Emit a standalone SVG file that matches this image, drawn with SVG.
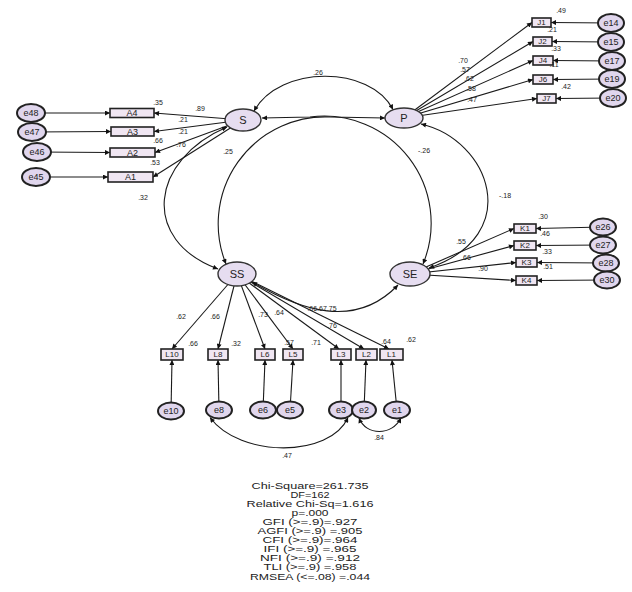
<svg xmlns="http://www.w3.org/2000/svg" width="632" height="592" viewBox="0 0 632 592">
<defs>
<style>
.c{fill:none;stroke:#1a1a1a;stroke-width:1.1}
.lat{fill:#e6ddf0;stroke:#333;stroke-width:1.4}
.err{fill:#e0d6ed;stroke:#222;stroke-width:2}
.box{fill:#f0e6f2;stroke:#222;stroke-width:1.6}
text{font-family:"Liberation Sans",Arial,sans-serif;fill:#222}
.n{font-size:7px}
.lb{font-size:8px;text-anchor:middle;dominant-baseline:central}
.le{font-size:9px;text-anchor:middle;dominant-baseline:central}
.ll{font-size:11px;text-anchor:middle;dominant-baseline:central}
.fit{font-size:9px;text-anchor:middle}
</style>
<marker id="a" viewBox="0 0 10 10" refX="10" refY="5" markerWidth="8" markerHeight="5" markerUnits="userSpaceOnUse" orient="auto-start-reverse"><path d="M0,0L10,5L0,10z" fill="#111"/></marker>
</defs>
<rect width="632" height="592" fill="#fff"/>

<g id="connectors" class="c" marker-end="url(#a)">
<path d="M243,120L154,113"/>
<path d="M243,120L154,131.5"/>
<path d="M243,120L155,152.5"/>
<path d="M243,120L153,177"/>
<path d="M31,113L110,113"/>
<path d="M32,132L111,131.5"/>
<path d="M37,152L110,152.5"/>
<path d="M36,177L108,177"/>
<path d="M404,118L532,22.5"/>
<path d="M404,118L533,41.5"/>
<path d="M404,118L533,60.5"/>
<path d="M404,118L533,79.5"/>
<path d="M404,118L537,98.5"/>
<path d="M611,23L551,22.5"/>
<path d="M611,42L552,41.5"/>
<path d="M612,61L553,60.5"/>
<path d="M612,79L553,79.5"/>
<path d="M613,98L556,98.5"/>
<path d="M410,274L514,228.5"/>
<path d="M410,274L514,245.5"/>
<path d="M410,274L516,262.5"/>
<path d="M410,274L516,280.5"/>
<path d="M603,227L536,228.5"/>
<path d="M603,245L536,245.5"/>
<path d="M606,263L537,262.5"/>
<path d="M607,280L537,280.5"/>
<path d="M237,274L172,349"/>
<path d="M237,274L218,349"/>
<path d="M237,274L265,349"/>
<path d="M237,274L293,349"/>
<path d="M237,274L339,349"/>
<path d="M237,274L364,349"/>
<path d="M237,274L389,349"/>
<path d="M171,411L172,360"/>
<path d="M219,410L218,360"/>
<path d="M263,410L265,360"/>
<path d="M290,410L293,360"/>
<path d="M341,410L341,360"/>
<path d="M364,410L366,360"/>
<path d="M397,410L392,360"/>
<path d="M254,111C280,65 370,65 393,109.5" marker-start="url(#a)"/>
<path d="M385,118L330,117A107,107 0 0 0 226,264" marker-start="url(#a)"/>
<path d="M262,118L310,117A107,107 0 0 1 423,264" marker-start="url(#a)"/>
<path d="M227,127C150,160 140,240 218,269" marker-start="url(#a)"/>
<path d="M421,124C490,140 525,235 429,268" marker-start="url(#a)"/>
<path d="M252,282C300,310 355,330 398,285" marker-start="url(#a)"/>
<path d="M210,417.5C240,458 330,458 348,417.5" marker-start="url(#a)"/>
<path d="M359,418C366,436 392,436 401,418" marker-start="url(#a)"/>
</g>

<g id="S"><ellipse class="lat" cx="243" cy="120" rx="18" ry="11"/><text class="ll" x="243" y="120">S</text></g>
<g id="P"><ellipse class="lat" cx="404" cy="118" rx="19" ry="10"/><text class="ll" x="404" y="118">P</text></g>
<g id="SS"><ellipse class="lat" cx="237" cy="274" rx="19" ry="12"/><text class="ll" x="237" y="274">SS</text></g>
<g id="SE"><ellipse class="lat" cx="410" cy="274" rx="20" ry="12"/><text class="ll" x="410" y="274">SE</text></g>

<g id="A4"><rect class="box" x="110" y="108.5" width="44" height="9"/><text class="le" x="132" y="113">A4</text></g>
<g id="A3"><rect class="box" x="111" y="127" width="43" height="9"/><text class="le" x="132.5" y="131.5">A3</text></g>
<g id="A2"><rect class="box" x="110" y="148" width="45" height="9"/><text class="le" x="132.5" y="152.5">A2</text></g>
<g id="A1"><rect class="box" x="108" y="172" width="45" height="10"/><text class="le" x="130.5" y="177">A1</text></g>
<g id="e48"><ellipse class="err" cx="31" cy="113" rx="14" ry="9"/><text class="le" x="31" y="113">e48</text></g>
<g id="e47"><ellipse class="err" cx="32" cy="132" rx="14" ry="9"/><text class="le" x="32" y="132">e47</text></g>
<g id="e46"><ellipse class="err" cx="37" cy="152" rx="14" ry="9"/><text class="le" x="37" y="152">e46</text></g>
<g id="e45"><ellipse class="err" cx="36" cy="177" rx="14" ry="9"/><text class="le" x="36" y="177">e45</text></g>

<g id="J1"><rect class="box" x="532" y="18" width="19" height="9"/><text class="lb" x="541.5" y="22.5">J1</text></g>
<g id="J2"><rect class="box" x="533" y="37" width="19" height="9"/><text class="lb" x="542.5" y="41.5">J2</text></g>
<g id="J4"><rect class="box" x="533" y="56" width="20" height="9"/><text class="lb" x="543" y="60.5">J4</text></g>
<g id="J6"><rect class="box" x="533" y="75" width="20" height="9"/><text class="lb" x="543" y="79.5">J6</text></g>
<g id="J7"><rect class="box" x="537" y="94" width="19" height="9"/><text class="lb" x="546.5" y="98.5">J7</text></g>
<g id="e14"><ellipse class="err" cx="611" cy="23" rx="13" ry="9"/><text class="le" x="611" y="23">e14</text></g>
<g id="e15"><ellipse class="err" cx="611" cy="42" rx="13" ry="9"/><text class="le" x="611" y="42">e15</text></g>
<g id="e17"><ellipse class="err" cx="612" cy="61" rx="13" ry="9"/><text class="le" x="612" y="61">e17</text></g>
<g id="e19"><ellipse class="err" cx="612" cy="79" rx="13" ry="9"/><text class="le" x="612" y="79">e19</text></g>
<g id="e20"><ellipse class="err" cx="613" cy="98" rx="13" ry="9"/><text class="le" x="613" y="98">e20</text></g>

<g id="K1"><rect class="box" x="514" y="224" width="22" height="9"/><text class="lb" x="525" y="228.5">K1</text></g>
<g id="K2"><rect class="box" x="514" y="241" width="22" height="9"/><text class="lb" x="525" y="245.5">K2</text></g>
<g id="K3"><rect class="box" x="516" y="258" width="21" height="9"/><text class="lb" x="526.5" y="262.5">K3</text></g>
<g id="K4"><rect class="box" x="516" y="276" width="21" height="9"/><text class="lb" x="526.5" y="280.5">K4</text></g>
<g id="e26"><ellipse class="err" cx="603" cy="227" rx="13" ry="8.5"/><text class="le" x="603" y="227">e26</text></g>
<g id="e27"><ellipse class="err" cx="603" cy="245" rx="13" ry="8.5"/><text class="le" x="603" y="245">e27</text></g>
<g id="e28"><ellipse class="err" cx="606" cy="263" rx="13" ry="8.5"/><text class="le" x="606" y="263">e28</text></g>
<g id="e30"><ellipse class="err" cx="607" cy="280" rx="13" ry="8.5"/><text class="le" x="607" y="280">e30</text></g>

<g id="L10"><rect class="box" x="161" y="349" width="22" height="11"/><text class="lb" x="172" y="354.5">L10</text></g>
<g id="L8"><rect class="box" x="208" y="349" width="20" height="11"/><text class="lb" x="218" y="354.5">L8</text></g>
<g id="L6"><rect class="box" x="255" y="349" width="20" height="11"/><text class="lb" x="265" y="354.5">L6</text></g>
<g id="L5"><rect class="box" x="283" y="349" width="20" height="11"/><text class="lb" x="293" y="354.5">L5</text></g>
<g id="L3"><rect class="box" x="331" y="349" width="20" height="11"/><text class="lb" x="341" y="354.5">L3</text></g>
<g id="L2"><rect class="box" x="356" y="349" width="21" height="11"/><text class="lb" x="366.5" y="354.5">L2</text></g>
<g id="L1"><rect class="box" x="380" y="349" width="23" height="11"/><text class="lb" x="391.5" y="354.5">L1</text></g>
<g id="e10"><ellipse class="err" cx="171" cy="411" rx="13" ry="8.5"/><text class="le" x="171" y="411">e10</text></g>
<g id="e8"><ellipse class="err" cx="219" cy="410" rx="13" ry="8.5"/><text class="le" x="219" y="410">e8</text></g>
<g id="e6"><ellipse class="err" cx="263" cy="410" rx="13" ry="8.5"/><text class="le" x="263" y="410">e6</text></g>
<g id="e5"><ellipse class="err" cx="290" cy="410" rx="13" ry="8.5"/><text class="le" x="290" y="410">e5</text></g>
<g id="e3"><ellipse class="err" cx="341" cy="410" rx="12" ry="8.5"/><text class="le" x="341" y="410">e3</text></g>
<g id="e2"><ellipse class="err" cx="364" cy="410" rx="12" ry="8.5"/><text class="le" x="364" y="410">e2</text></g>
<g id="e1"><ellipse class="err" cx="397" cy="410" rx="13" ry="8.5"/><text class="le" x="397" y="410">e1</text></g>

<g id="labels">
<text class="n" x="318" y="75" text-anchor="middle">.26</text>
<text class="n" x="228" y="154" text-anchor="middle">.25</text>
<text class="n" x="424" y="153" text-anchor="middle">-.26</text>
<text class="n" x="143" y="200" text-anchor="middle">.32</text>
<text class="n" x="505" y="198" text-anchor="middle">-.18</text>
<text class="n" x="158" y="105" text-anchor="middle">.35</text>
<text class="n" x="200" y="111" text-anchor="middle">.89</text>
<text class="n" x="183" y="122" text-anchor="middle">.21</text>
<text class="n" x="183" y="134" text-anchor="middle">.21</text>
<text class="n" x="158" y="143" text-anchor="middle">.66</text>
<text class="n" x="181" y="147" text-anchor="middle">.76</text>
<text class="n" x="155" y="165" text-anchor="middle">.53</text>
<text class="n" x="463" y="63" text-anchor="middle">.70</text>
<text class="n" x="465" y="72" text-anchor="middle">.57</text>
<text class="n" x="469" y="81" text-anchor="middle">.62</text>
<text class="n" x="471" y="91" text-anchor="middle">.58</text>
<text class="n" x="472" y="102" text-anchor="middle">.47</text>
<text class="n" x="561" y="13" text-anchor="middle">.49</text>
<text class="n" x="552" y="32" text-anchor="middle">.21</text>
<text class="n" x="556" y="51" text-anchor="middle">.33</text>
<text class="n" x="554" y="67" text-anchor="middle">.11</text>
<text class="n" x="566" y="89" text-anchor="middle">.42</text>
<text class="n" x="543" y="219" text-anchor="middle">.30</text>
<text class="n" x="545" y="236" text-anchor="middle">.46</text>
<text class="n" x="547" y="254" text-anchor="middle">.33</text>
<text class="n" x="548" y="269" text-anchor="middle">.51</text>
<text class="n" x="461" y="244" text-anchor="middle">.55</text>
<text class="n" x="466" y="260" text-anchor="middle">.66</text>
<text class="n" x="483" y="271" text-anchor="middle">.90</text>
<text class="n" x="181" y="319" text-anchor="middle">.62</text>
<text class="n" x="215" y="319" text-anchor="middle">.66</text>
<text class="n" x="263" y="317" text-anchor="middle">.73</text>
<text class="n" x="279" y="315" text-anchor="middle">.64</text>
<text class="n" x="322" y="311" text-anchor="middle">.66.67.75</text>
<text class="n" x="332" y="328" text-anchor="middle">.76</text>
<text class="n" x="193" y="346" text-anchor="middle">.66</text>
<text class="n" x="236" y="346" text-anchor="middle">.32</text>
<text class="n" x="289" y="345" text-anchor="middle">.57</text>
<text class="n" x="316" y="345" text-anchor="middle">.71</text>
<text class="n" x="386" y="344" text-anchor="middle">.64</text>
<text class="n" x="411" y="342" text-anchor="middle">.62</text>
<text class="n" x="287" y="458" text-anchor="middle">.47</text>
<text class="n" x="379" y="440" text-anchor="middle">.84</text>
</g>

<g id="fit">
<text class="fit" x="310" y="489" textLength="117" lengthAdjust="spacingAndGlyphs">Chi-Square=261.735</text>
<text class="fit" x="310" y="498" textLength="39" lengthAdjust="spacingAndGlyphs">DF=162</text>
<text class="fit" x="310" y="507" textLength="127" lengthAdjust="spacingAndGlyphs">Relative Chi-Sq=1.616</text>
<text class="fit" x="310" y="516" textLength="37" lengthAdjust="spacingAndGlyphs">p=.000</text>
<text class="fit" x="310" y="525" textLength="95" lengthAdjust="spacingAndGlyphs">GFI (&gt;=.9)=.927</text>
<text class="fit" x="310" y="534" textLength="105" lengthAdjust="spacingAndGlyphs">AGFI (&gt;=.9) =.905</text>
<text class="fit" x="310" y="543" textLength="95" lengthAdjust="spacingAndGlyphs">CFI (&gt;=.9)=.964</text>
<text class="fit" x="310" y="552" textLength="93" lengthAdjust="spacingAndGlyphs">IFI (&gt;=.9) =.965</text>
<text class="fit" x="310" y="561" textLength="100" lengthAdjust="spacingAndGlyphs">NFI (&gt;=.9) =.912</text>
<text class="fit" x="310" y="570" textLength="93" lengthAdjust="spacingAndGlyphs">TLI (&gt;=.9) =.958</text>
<text class="fit" x="310" y="580" textLength="120" lengthAdjust="spacingAndGlyphs">RMSEA (&lt;=.08) =.044</text>
</g>
</svg>
